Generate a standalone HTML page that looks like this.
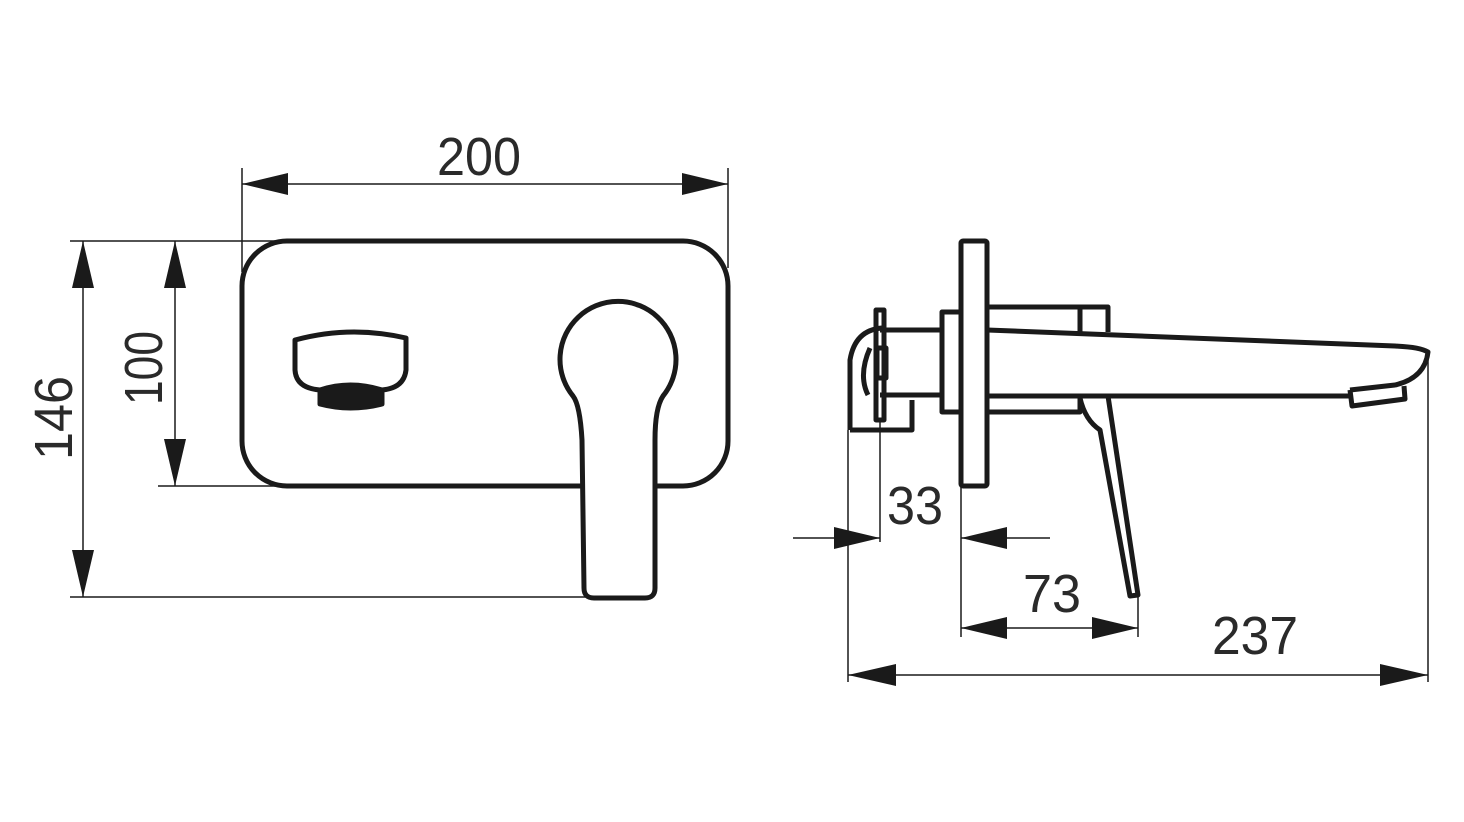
<!DOCTYPE html>
<html><head><style>html,body{margin:0;padding:0;background:#fff}svg{display:block}text{font-family:"Liberation Sans Narrow","Liberation Sans",sans-serif;font-size:54px;fill:#2a2a2a}</style></head>
<body>
<svg width="1464" height="822" viewBox="0 0 1464 822" xmlns="http://www.w3.org/2000/svg">
<g stroke="#1a1a1a" fill="none" stroke-width="1.5">
<line x1="242" y1="168" x2="242" y2="272"/>
<line x1="728" y1="168" x2="728" y2="268"/>
<line x1="70" y1="241" x2="290" y2="241"/>
<line x1="158" y1="486" x2="282" y2="486"/>
<line x1="70" y1="597" x2="595" y2="597"/>
<line x1="242" y1="184" x2="728" y2="184"/>
<line x1="83" y1="241" x2="83" y2="597"/>
<line x1="175" y1="241" x2="175" y2="486"/>
<line x1="848" y1="430" x2="848" y2="682"/>
<line x1="880" y1="420" x2="880" y2="542"/>
<line x1="961" y1="486" x2="961" y2="637"/>
<line x1="1138" y1="597" x2="1138" y2="637"/>
<line x1="1428" y1="352" x2="1428" y2="682"/>
<line x1="793" y1="538" x2="880" y2="538"/>
<line x1="961" y1="538" x2="1050" y2="538"/>
<line x1="961" y1="628" x2="1138" y2="628"/>
<line x1="848" y1="675" x2="1428" y2="675"/>
</g>
<g fill="#1a1a1a">
<polygon points="242,184 288,173 288,195"/>
<polygon points="728,184 682,173 682,195"/>
<polygon points="83,241 72,288 94,288"/>
<polygon points="83,597 72,550 94,550"/>
<polygon points="175,241 164,288 186,288"/>
<polygon points="175,486 164,439 186,439"/>
<polygon points="880,538 834,527 834,549"/>
<polygon points="961,538 1007,527 1007,549"/>
<polygon points="961,628 1007,617 1007,639"/>
<polygon points="1138,628 1092,617 1092,639"/>
<polygon points="848,675 896,664 896,686"/>
<polygon points="1428,675 1380,664 1380,686"/>
</g>
<g stroke="#1a1a1a" fill="none" stroke-width="5" stroke-linejoin="round">
<rect x="242" y="241" width="486" height="245" rx="45"/>
<path d="M573,396 A58,58 0 1 1 663,396 Q655,408 655,440 L655,588 Q655,598 645,598 L594,598 Q584,598 584,588 L582,440 Q580,405 573,396 Z" fill="#fff"/>
<path d="M295,340 Q350,325 406,338 L406,370 Q404,388 382,390 Q350,380 320,390 Q296,388 295,370 Z"/>
<path d="M320,392 Q350,382 382,392 L382,404 Q350,412 320,404 Z" fill="#1a1a1a"/>
<rect x="961" y="241" width="26" height="245" rx="2"/>
<rect x="942" y="312" width="19" height="100"/>
<path d="M987,307 L1108,307 L1108,332"/>
<path d="M1080,307 L1080,332"/>
<path d="M987,330 L1395,346 Q1420,347 1428,352 Q1425,378 1395,385 L1350,390"/>
<path d="M987,396 L1350,396"/>
<path d="M1350,390 L1352,406 L1405,399 L1404,386"/>
<path d="M987,412 L1080,412 L1080,396"/>
<path d="M1080,398 Q1085,420 1100,430 L1130,596 L1138,595 L1108,396"/>
<path d="M942,330 L880,330 M942,395 L880,395"/>
<path d="M876,310 L884,310 L884,420 L876,420 Z"/>
<path d="M850,430 L850,360 Q855,330 882,328"/>
<path d="M868,395 Q858,375 870,348"/>
<path d="M850,430 L912,430 L912,400"/>
<rect x="877" y="348" width="9" height="30"/>
</g>
<text x="437" y="175" textLength="84" lengthAdjust="spacingAndGlyphs">200</text>
<text x="887" y="524" textLength="56" lengthAdjust="spacingAndGlyphs">33</text>
<text x="1023" y="612" textLength="58" lengthAdjust="spacingAndGlyphs">73</text>
<text x="1212" y="654" textLength="86" lengthAdjust="spacingAndGlyphs">237</text>
<text transform="translate(72,460) rotate(-90)" textLength="84" lengthAdjust="spacingAndGlyphs">146</text>
<text transform="translate(162,405) rotate(-90)" textLength="74" lengthAdjust="spacingAndGlyphs">100</text>
</svg>
</body></html>
